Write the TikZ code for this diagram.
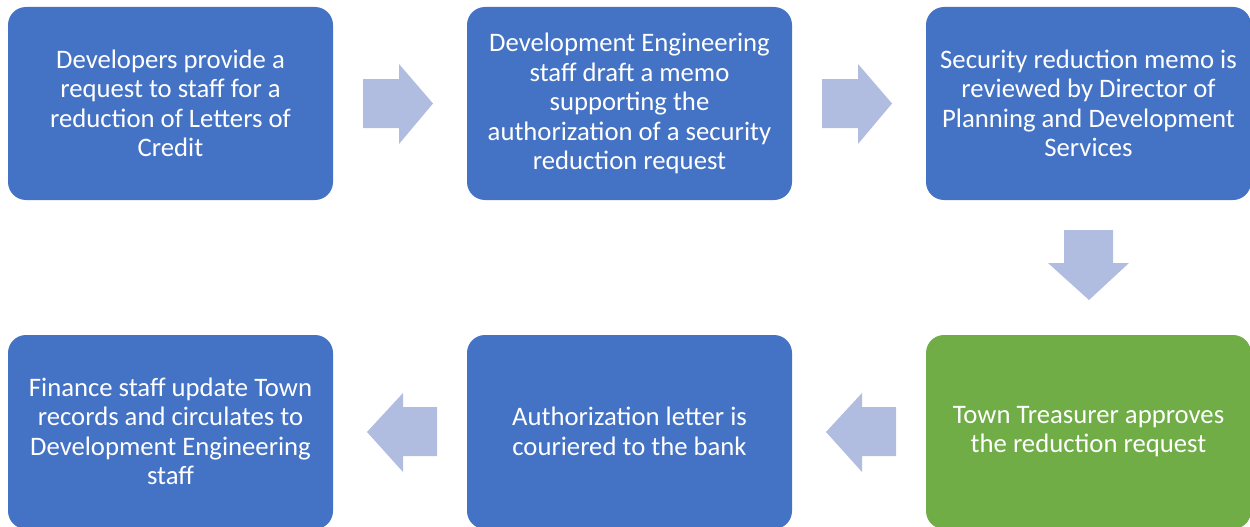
\documentclass[tikz,border=0pt]{standalone}
\usepackage{fontspec}
\setmainfont{Carlito}
\definecolor{boxblue}{HTML}{4472C4}
\definecolor{boxgreen}{HTML}{70AD47}
\definecolor{arrowfill}{HTML}{B0BDE0}
\begin{document}
\begin{tikzpicture}[x=1pt,y=-1pt,
  stepbox/.style={draw=none, text=white, align=center, inner sep=0pt,
    font=\fontsize{26.7}{29.5}\selectfont},
  flow/.style={fill=arrowfill, draw=none}]
\useasboundingbox (0,0) rectangle (1250,527);
% top row
\fill[boxblue, rounded corners=18pt] (8,7) rectangle (333,200);
\node[stepbox] (b1) at (170.5,103.5) {Developers provide a\\request to staff for a\\reduction of Letters of\\Credit};
\fill[boxblue, rounded corners=18pt] (467,7) rectangle (792,200);
\node[stepbox] (b2) at (629.5,103.5) {Development Engineering\\staff draft a memo\\supporting the\\authorization of a security\\reduction request};
\fill[boxblue, rounded corners=18pt] (926,7) rectangle (1251,200);
\node[stepbox] (b3) at (1088.5,103.5) {Security reduction memo is\\reviewed by Director of\\Planning and Development\\Services};
% bottom row
\fill[boxgreen, rounded corners=18pt] (926,335) rectangle (1251,529);
\node[stepbox] (b4) at (1088.5,431.5) {Town Treasurer approves\\the reduction request};
\fill[boxblue, rounded corners=18pt] (467,335) rectangle (792,529);
\node[stepbox] (b5) at (629.5,431.5) {Authorization letter is\\couriered to the bank};
\fill[boxblue, rounded corners=18pt] (8,335) rectangle (333,529);
\node[stepbox] (b6) at (170.5,431.5) {Finance staff update Town\\records and circulates to\\Development Engineering\\staff};
% arrows
\fill[flow] (363,79) -- (399,79) -- (399,64) -- (433,103.5) -- (399,144) -- (399,128) -- (363,128) -- cycle;
\fill[flow] (822,79) -- (858,79) -- (858,64) -- (892,103.5) -- (858,144) -- (858,128) -- (822,128) -- cycle;
\fill[flow] (1064,230) -- (1113,230) -- (1113,263) -- (1129,263) -- (1089,300) -- (1048,263) -- (1064,263) -- cycle;
\fill[flow] (896,407) -- (862,407) -- (862,393) -- (826,432) -- (862,472) -- (862,456) -- (896,456) -- cycle;
\fill[flow] (437,407) -- (403,407) -- (403,393) -- (367,432) -- (403,472) -- (403,456) -- (437,456) -- cycle;
\end{tikzpicture}
\end{document}
